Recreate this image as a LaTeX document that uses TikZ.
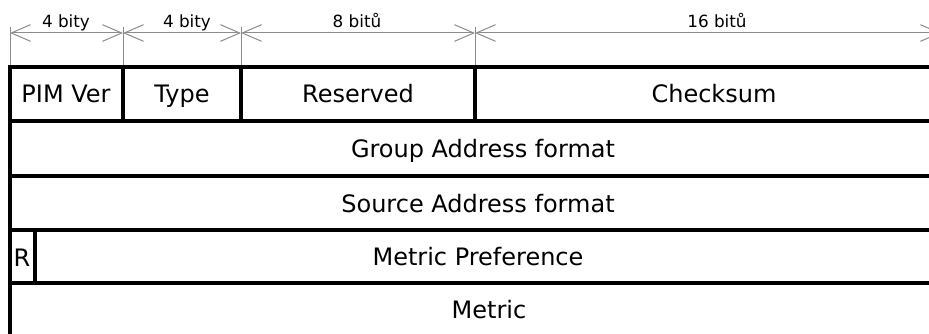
\documentclass[tikz,border=0pt]{standalone}
\usepackage{fontspec}
\setmainfont{DejaVu Sans}
\usetikzlibrary{arrows.meta}

\tikzset{every picture/.style={line width=0.75pt}}
\tikzset{
  field/.style={line width=3pt},
  fieldtext/.style={font=\fontsize{18}{21}\selectfont, inner sep=0.75pt, anchor=base},
  bitlabel/.style={font=\fontsize{12.6}{15}\selectfont, inner sep=0.75pt, anchor=base},
  extline/.style={draw={rgb,255:red,140;green,140;blue,140}, line width=0.75pt},
  dimline/.style={draw={rgb,255:red,140;green,140;blue,140}, line width=0.75pt,
    {Straight Barb[length=14.5pt,width=12.5pt]}-{Straight Barb[length=14.5pt,width=12.5pt]}},
}

\begin{document}
\begin{tikzpicture}[x=0.75pt,y=0.75pt,yscale=-1,xscale=1]
\useasboundingbox (0,0) rectangle (929,334);
\clip (0,0) rectangle (929,334);

%Bit widths
\coordinate (d0) at (10,33);
\coordinate (d1) at (123,33);
\coordinate (d2) at (241,33);
\coordinate (d3) at (475,33);
\coordinate (d4) at (941,33);
%Straight Lines
\draw [extline] (10,27) -- (10,67);
\draw [extline] (123,27) -- (123,67);
\draw [extline] (241,27) -- (241,67);
\draw [extline] (475,27) -- (475,67);
%Dimension Lines
\draw [dimline] (d0) -- (d1);
\draw [dimline] (d1) -- (d2);
\draw [dimline] (d2) -- (d3);
\draw [dimline] (d3) -- (d4);
% Text Node
\node [bitlabel] (w1) at (66,28) {4 bity};
\node [bitlabel] (w2) at (187,28) {4 bity};
\node [bitlabel] (w3) at (357,27.5) {8 bitů};
\node [bitlabel] (w4) at (717,27.5) {16 bitů};

%Shape: Rectangle (header)
\draw [field] (10,67) rectangle (123,121);
\draw [field] (123,67) rectangle (241,121);
\draw [field] (241,67) rectangle (475,121);
\draw [field] (475,67) rectangle (955,121);
%Shape: Rectangle (addresses)
\draw [field] (10,121) rectangle (955,176);
\draw [field] (10,176) rectangle (955,230);
%Shape: Rectangle (metric)
\draw [field] (10,230) rectangle (35,283);
\draw [field] (35,230) rectangle (955,283);
\draw [field] (10,283) rectangle (955,337);

% Text Node
\node [fieldtext] (pimver) at (66,102.5) {PIM Ver};
\node [fieldtext] (type) at (182,102.5) {Type};
\node [fieldtext] (reserved) at (358,102.5) {Reserved};
\node [fieldtext] (checksum) at (714,102.5) {Checksum};
\node [fieldtext] (group) at (483,157.5) {Group Address format};
\node [fieldtext] (source) at (478,212.5) {Source Address format};
\node [fieldtext] (r) at (22,266.5) {R};
\node [fieldtext] (metpref) at (478,265.5) {Metric Preference};
\node [fieldtext] (metric) at (489,318.5) {Metric};

\end{tikzpicture}
\end{document}
